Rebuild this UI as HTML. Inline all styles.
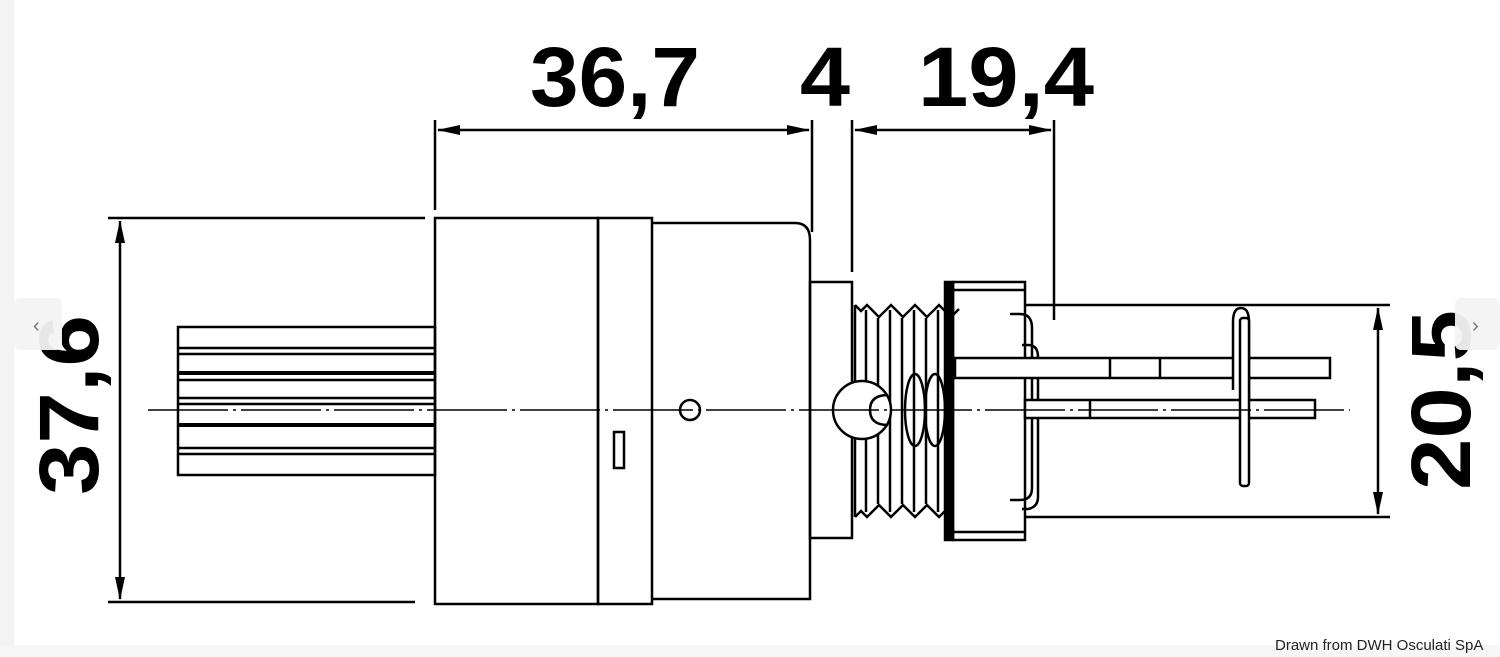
<!DOCTYPE html>
<html><head><style>
html,body{margin:0;padding:0;background:#fff;}
svg{display:block;}
</style></head><body>
<svg width="1500" height="657" viewBox="0 0 1500 657" xmlns="http://www.w3.org/2000/svg">
<rect width="1500" height="657" fill="#fff"/>
<rect x="0" y="0" width="14" height="657" fill="#f3f3f3"/>
<rect x="0" y="645" width="1500" height="12" fill="#f6f6f6"/>
<g font-family="'Liberation Sans Narrow','Liberation Sans',sans-serif" font-weight="bold" fill="#000">
<text x="530" y="106" font-size="84" textLength="170" lengthAdjust="spacingAndGlyphs">36,7</text>
<text x="800" y="106" font-size="84" textLength="50" lengthAdjust="spacingAndGlyphs">4</text>
<text x="918" y="106" font-size="84" textLength="176" lengthAdjust="spacingAndGlyphs">19,4</text>
<text transform="translate(98,495) rotate(-90)" font-size="84" textLength="180" lengthAdjust="spacingAndGlyphs">37,6</text>
<text transform="translate(1470,490) rotate(-90)" font-size="84" textLength="180" lengthAdjust="spacingAndGlyphs">20,5</text>
</g>
<g stroke="#000" stroke-width="2.5" fill="none">
<!-- top dims -->
<line x1="435" y1="120" x2="435" y2="210"/>
<line x1="812" y1="120" x2="812" y2="232"/>
<line x1="852" y1="120" x2="852" y2="272"/>
<line x1="1054" y1="120" x2="1054" y2="320"/>
<line x1="438" y1="130" x2="809" y2="130"/>
<line x1="855" y1="130" x2="1051" y2="130"/>
<!-- left dim -->
<line x1="108" y1="218" x2="425" y2="218"/>
<line x1="108" y1="602" x2="415" y2="602"/>
<line x1="120" y1="221" x2="120" y2="599"/>
<!-- right dim -->
<line x1="1025" y1="305" x2="1390" y2="305"/>
<line x1="1025" y1="517" x2="1390" y2="517"/>
<line x1="1378" y1="308" x2="1378" y2="514"/>
<!-- body -->
<rect x="435" y="218" width="163" height="386"/>
<rect x="598" y="218" width="54" height="386"/>
<path d="M652 223 H795 Q810 223 810 240 V599 H652"/>
<rect x="810" y="282" width="42" height="256"/>
<!-- pins -->
<rect x="178" y="327" width="257" height="148"/>
<line x1="178" y1="348" x2="435" y2="348"/>
<line x1="178" y1="354" x2="435" y2="354"/>
<line x1="178" y1="373" x2="435" y2="373" stroke-width="4"/>
<line x1="178" y1="380" x2="435" y2="380"/>
<line x1="178" y1="398" x2="435" y2="398"/>
<line x1="178" y1="404" x2="435" y2="404"/>
<line x1="178" y1="425" x2="435" y2="425" stroke-width="4"/>
<line x1="178" y1="448" x2="435" y2="448"/>
<line x1="178" y1="454" x2="435" y2="454"/>
<rect x="614" y="432" width="10" height="36"/>
<circle cx="690" cy="410" r="10"/>
<!-- thread -->
<path d="M855 305 l6 6 l6 -6 l12 12 l12 -12 l12 12 l12 -12 l12 12 l12 -12 l12 12 l8 -8 M855 517 l6 -6 l6 6 l12 -12 l12 12 l12 -12 l12 12 l12 -12 l12 12 l8 -8"/>
<line x1="855" y1="305" x2="855" y2="517"/>
<line x1="866" y1="310" x2="866" y2="512"/>
<line x1="878" y1="318" x2="878" y2="504"/>
<line x1="890" y1="310" x2="890" y2="512"/>
<line x1="902" y1="318" x2="902" y2="504"/>
<line x1="914" y1="310" x2="914" y2="512"/>
<line x1="926" y1="318" x2="926" y2="504"/>
<line x1="938" y1="310" x2="938" y2="512"/>
<circle cx="862" cy="410" r="29" fill="#fff"/>
<path d="M888 395 q-18 0 -18 15 q0 15 18 15"/>
<ellipse cx="915" cy="410" rx="10" ry="36"/>
<ellipse cx="935" cy="410" rx="10" ry="36"/>
<!-- nut -->
<rect x="945" y="282" width="8" height="258" fill="#000"/>
<rect x="953" y="282" width="72" height="258"/>
<line x1="953" y1="290" x2="1025" y2="290"/>
<line x1="953" y1="532" x2="1025" y2="532"/>
<path d="M1010 314 h10 q12 0 12 14 v160 q0 12 -12 12 h-10"/>
<path d="M1022 345 h6 q10 0 10 12 v140 q0 10 -10 12 h-6"/>
<!-- rods -->
<rect x="955" y="358" width="375" height="20" fill="#fff"/>
<line x1="1110" y1="358" x2="1110" y2="378"/>
<line x1="1160" y1="358" x2="1160" y2="378"/>
<rect x="1025" y="400" width="290" height="18" fill="#fff"/>
<line x1="1090" y1="400" x2="1090" y2="418"/>
<!-- clip -->
<path d="M1233 390 V322 q0 -14 8 -14 q8 0 8 14 V400" fill="#fff"/>
<rect x="1240" y="318" width="9" height="168" rx="3" fill="#fff"/>
</g>
<!-- center line -->
<line x1="148" y1="410" x2="1350" y2="410" stroke="#000" stroke-width="1.5" stroke-dasharray="80,5,3,5"/>
<!-- arrowheads -->
<g fill="#000">
<polygon points="437,130 460,125 460,135"/>
<polygon points="810,130 787,125 787,135"/>
<polygon points="854,130 877,125 877,135"/>
<polygon points="1052,130 1029,125 1029,135"/>
<polygon points="120,220 115,243 125,243"/>
<polygon points="120,600 115,577 125,577"/>
<polygon points="1378,307 1373,330 1383,330"/>
<polygon points="1378,515 1373,492 1383,492"/>
</g>
<!-- nav buttons -->
<rect x="14" y="298" width="48" height="52" rx="6" fill="#f3f3f3" opacity="0.95"/>
<text x="33" y="332" font-family="'Liberation Sans',sans-serif" font-size="20" fill="#777">‹</text>
<rect x="1455" y="298" width="45" height="52" rx="6" fill="#f3f3f3" opacity="0.95"/>
<text x="1472" y="332" font-family="'Liberation Sans',sans-serif" font-size="20" fill="#777">›</text>
<text x="1275" y="650" font-family="'Liberation Sans Narrow','Liberation Sans',sans-serif" font-size="15" fill="#222">Drawn from DWH Osculati SpA</text>
</svg>
</body></html>
